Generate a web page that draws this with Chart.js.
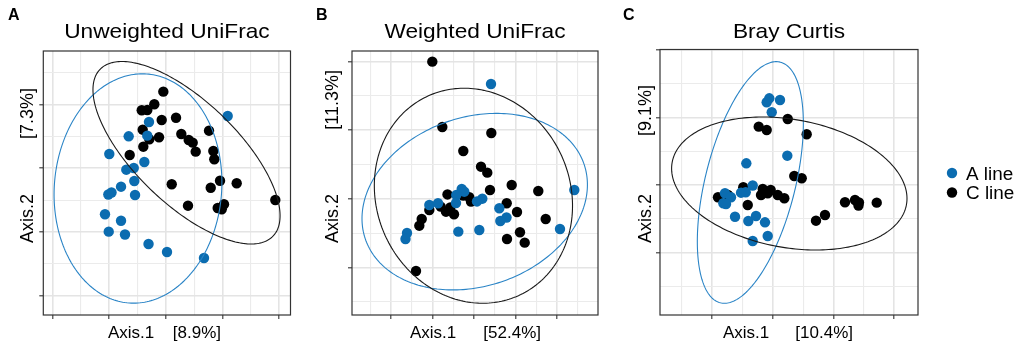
<!DOCTYPE html>
<html>
<head>
<meta charset="utf-8">
<script src="https://cdn.jsdelivr.net/npm/chart.js@4.4.1/dist/chart.umd.min.js"></script>
<style>
  html, body { margin: 0; padding: 0; background: #fff; }
  #wrap { position: relative; width: 1021px; height: 344px; overflow: hidden; }
  canvas { position: absolute; top: 0; }
</style>
</head>
<body>
<div id="wrap">
  <canvas id="panelA" width="305" height="344" style="left:0px"></canvas>
  <canvas id="panelB" width="307" height="344" style="left:305px"></canvas>
  <canvas id="panelC" width="409" height="344" style="left:612px"></canvas>
</div>
<script>
// groups / legend
const groupNames = ['A line', 'C line'];
const groupColors = ['#0b6cb0', '#000000'];
const ellipseColors = ['#2a84c6', '#1a1a1a'];

// ---- A: Unweighted UniFrac ----
const unwAline = [
  [0.1093, 0.1821], [-0.0295, 0.1727], [-0.0653, 0.1502], [-0.0325, 0.1512], [-0.0995, 0.1224],
  [-0.0377, 0.1099], [-0.0564, 0.1005], [-0.0695, 0.0978], [-0.0554, 0.0801], [-0.0788, 0.0711],
  [-0.0956, 0.0620], [-0.1012, 0.0589], [-0.0541, 0.0581], [-0.1071, 0.0278], [-0.0788, 0.0177],
  [-0.1005, 0.0005], [-0.0718, -0.0039], [-0.0303, -0.0188], [0.0023, -0.0314], [0.0675, -0.0408]
];
const unwCline = [
  [-0.0042, 0.2203], [-0.0201, 0.2005], [-0.0325, 0.1915], [-0.0423, 0.1911], [-0.0071, 0.1758],
  [0.0182, 0.1794], [-0.0406, 0.1606], [-0.0118, 0.1487], [-0.0289, 0.1455], [-0.0395, 0.1339],
  [0.0275, 0.1538], [0.0406, 0.1444], [0.0476, 0.1402], [0.0529, 0.1261], [0.0764, 0.1590],
  [0.0840, 0.1272], [0.0857, 0.1141], [-0.0635, 0.1209], [0.0106, 0.0749], [0.0958, 0.0805],
  [0.1252, 0.0765], [0.0794, 0.0695], [0.0393, 0.0413], [0.0917, 0.0377], [0.1028, 0.0435],
  [0.0988, 0.0356], [0.1933, 0.0502]
];
// ellipse: [centre x, centre y, half width, half height, y offset at widest point]
const unwEllA = [-0.0489, 0.0683, 0.148, 0.180, 0.0094];
const unwEllC = [0.0367, 0.1244, 0.165, 0.1432, -0.0989];
const unwXRange = [-0.2159, 0.2201];
const unwYRange = [-0.1303, 0.2841];
const unwXTicks = [-0.2, -0.1, 0, 0.1, 0.2];
const unwXMinor = [-0.15, -0.05, 0.05, 0.15];
const unwYTicks = [-0.1, 0, 0.1, 0.2];
const unwYMinor = [-0.05, 0.05, 0.15, 0.25];

// ---- B: Weighted UniFrac ----
const wAline = [
  [0.0410, 0.1674], [0.2417, 0.0131], [-0.0296, 0.0146], [-0.0234, 0.0106], [-0.0427, 0.0058],
  [-0.0434, -0.0058], [-0.1077, -0.0087], [-0.0867, -0.0063], [0.0200, 0.0004], [0.0072, -0.0036],
  [0.0610, -0.0135], [0.0783, -0.0269], [0.0634, -0.0320], [-0.0378, -0.0476], [0.0128, -0.0451],
  [0.2072, -0.0437], [-0.1614, -0.0495], [-0.1651, -0.0582]
];
const wCline = [
  [-0.1005, 0.1999], [-0.0764, 0.1048], [0.0417, 0.0961], [-0.0258, 0.0699], [0.0169, 0.0470],
  [0.0320, 0.0383], [0.0908, 0.0204], [0.0386, 0.0131], [0.1549, 0.0116], [-0.0639, 0.0066],
  [-0.0258, 0.0048], [-0.0113, 0.0025], [-0.0072, -0.0039], [-0.0802, -0.0112], [-0.1077, -0.0160],
  [-0.0675, -0.0185], [-0.0571, -0.0124], [-0.0482, -0.0223], [0.0788, -0.0063], [0.1036, -0.0189],
  [0.1728, -0.0291], [-0.1260, -0.0291], [-0.1318, -0.0389], [0.1108, -0.0485], [0.0795, -0.0582],
  [0.1222, -0.0636], [-0.1398, -0.1048]
];
const wEllA = [0.0017, -0.0039, 0.2716, 0.1285, 0.0247];
const wEllC = [-0.0014, 0.0047, 0.2388, 0.1565, -0.0146];
const wXRange = [-0.2940, 0.2988];
const wYRange = [-0.1689, 0.2154];
const wXTicks = [-0.2, -0.1, 0, 0.1, 0.2];
const wXMinor = [-0.25, -0.15, -0.05, 0.05, 0.15, 0.25];
const wYTicks = [-0.1, 0, 0.1, 0.2];
const wYMinor = [-0.15, -0.05, 0.05, 0.15];

// ---- C: Bray Curtis ----
const bcAline = [
  [-0.0056, 0.1284], [-0.0099, 0.1225], [0.0120, 0.1259], [-0.0016, 0.1077], [0.0240, 0.0434],
  [-0.0434, 0.0321], [-0.0329, -0.0007], [-0.0444, -0.0108], [-0.0521, -0.0114], [-0.0785, -0.0123],
  [-0.0686, -0.0182], [-0.0812, -0.0271], [-0.0768, -0.0281], [-0.0620, -0.0470], [-0.0401, -0.0533],
  [-0.0275, -0.0459], [-0.0127, -0.0553], [-0.0082, -0.0756], [-0.0329, -0.0830]
];
const bcCline = [
  [0.0247, 0.0978], [-0.0230, 0.0864], [-0.0099, 0.0815], [0.0559, 0.0751], [0.0355, 0.0133],
  [0.0477, 0.0099], [-0.0484, -0.0034], [-0.0164, -0.0059], [-0.0033, -0.0074], [-0.0192, -0.0148],
  [-0.0082, -0.0123], [0.0082, -0.0148], [0.0191, -0.0197], [-0.0900, -0.0182], [-0.0735, -0.0148],
  [-0.0411, -0.0296], [0.1189, -0.0256], [0.1354, -0.0222], [0.1419, -0.0259], [0.1411, -0.0304],
  [0.1711, -0.0262], [0.0860, -0.0444], [0.0712, -0.0529]
];
const bcEllA = [-0.0368, 0.0037, 0.0872, 0.179, 0.0874];
const bcEllC = [0.0273, 0.0022, 0.1936, 0.0985, -0.0222];
const bcXRange = [-0.1854, 0.2390];
const bcYRange = [-0.1926, 0.2007];
const bcXTicks = [-0.1, 0, 0.1, 0.2];
const bcXMinor = [-0.15, -0.05, 0.05, 0.15];
const bcYTicks = [-0.1, 0, 0.1, 0.2];
const bcYMinor = [-0.15, -0.05, 0.05, 0.15];

const FONT = '"Liberation Sans", Arial, Helvetica, sans-serif';

function axis(range, major, minor, horizontal) {
  const all = major.concat(minor).sort((a, b) => a - b);
  const isMajor = c => c.tick && major.includes(c.tick.value);
  return {
    type: 'linear',
    min: range[0],
    max: range[1],
    afterBuildTicks: s => { s.ticks = all.map(v => ({ value: v })); },
    afterFit: s => { if (horizontal) s.height = 4; else s.width = 4; },
    ticks: { display: false },
    border: { display: false },
    grid: {
      color: c => isMajor(c) ? '#e4e4e4' : '#ebebeb',
      lineWidth: c => isMajor(c) ? 1.6 : 1.1,
      tickColor: c => isMajor(c) ? '#333333' : 'rgba(0,0,0,0)',
      tickWidth: 1.1,
      tickLength: 4
    }
  };
}

function txt(ctx, s, x, y, opt) {
  ctx.save();
  ctx.translate(x, y);
  if (opt.rot) ctx.rotate(opt.rot);
  ctx.scale(opt.sx || 1, 1);
  ctx.font = opt.font;
  ctx.fillStyle = opt.color || '#000';
  ctx.textAlign = opt.align || 'left';
  ctx.textBaseline = 'alphabetic';
  ctx.fillText(s, 0, 0);
  ctx.restore();
}

function decor(p) {
  return {
    id: 'decor' + p.letter,
    afterDatasetsDraw(chart) {
      const { ctx, chartArea: a, scales: { x, y } } = chart;
      ctx.save();
      ctx.beginPath();
      ctx.rect(a.left, a.top, a.right - a.left, a.bottom - a.top);
      ctx.clip();
      p.ellipses.forEach((e, gi) => {
        const [cx, cy, rx, ry, k] = e;
        const q = Math.sqrt(ry * ry - k * k);
        ctx.beginPath();
        for (let i = 0; i <= 240; i++) {
          const t = i / 240 * 2 * Math.PI;
          const px = x.getPixelForValue(cx + rx * Math.cos(t));
          const py = y.getPixelForValue(cy + k * Math.cos(t) + q * Math.sin(t));
          if (i === 0) ctx.moveTo(px, py); else ctx.lineTo(px, py);
        }
        ctx.closePath();
        ctx.strokeStyle = ellipseColors[gi];
        ctx.lineWidth = 1.1;
        ctx.stroke();
      });
      ctx.restore();
      ctx.save();
      ctx.strokeStyle = '#333333';
      ctx.lineWidth = 1.2;
      ctx.strokeRect(a.left, a.top, a.right - a.left, a.bottom - a.top);
      ctx.restore();
    },
    afterDraw(chart) {
      const ctx = chart.ctx;
      const a = chart.chartArea;
      const o = p.offset;
      const mid = (a.left + a.right) / 2;
      txt(ctx, p.letter, p.letterX - o, 20, { font: 'bold 16px ' + FONT });
      txt(ctx, p.title, mid, 38, { font: '21px ' + FONT, align: 'center', sx: 1.08 });
      // x axis title, two parts
      txt(ctx, 'Axis.1', p.xl[0] - o, 338, { font: '17px ' + FONT });
      txt(ctx, p.xPct, p.xl[1] - o, 338, { font: '17px ' + FONT, align: 'right' });
      // y axis title, rotated
      txt(ctx, 'Axis.2', p.yl[0] - o, 243, { font: '18px ' + FONT, rot: -Math.PI / 2 });
      txt(ctx, p.yPct, p.yl[0] - o, p.yl[1], { font: '18px ' + FONT, rot: -Math.PI / 2, align: 'right' });
      if (p.legend) {
        groupNames.forEach((g, i) => {
          const yy = 173 + i * 19.5;
          ctx.beginPath();
          ctx.arc(952 - o, yy, 5.2, 0, 2 * Math.PI);
          ctx.fillStyle = groupColors[i];
          ctx.fill();
          txt(ctx, g, 966 - o, yy + 6.5, { font: '18px ' + FONT, sx: 1.05 });
        });
      }
    }
  };
}

function makePanel(id, p) {
  const toPts = arr => arr.map(d => ({ x: d[0], y: d[1] }));
  new Chart(document.getElementById(id), {
    type: 'scatter',
    data: {
      datasets: [
        { label: groupNames[0], data: toPts(p.aLine), backgroundColor: groupColors[0], pointRadius: 5.2, borderWidth: 0, pointHoverRadius: 5.2 },
        { label: groupNames[1], data: toPts(p.cLine), backgroundColor: groupColors[1], pointRadius: 5.2, borderWidth: 0, pointHoverRadius: 5.2 }
      ]
    },
    options: {
      responsive: false,
      animation: false,
      events: [],
      layout: { padding: p.padding },
      plugins: { legend: { display: false }, tooltip: { enabled: false } },
      scales: {
        x: axis(p.xRange, p.xTicks, p.xMinor, true),
        y: axis(p.yRange, p.yTicks, p.yMinor, false)
      }
    },
    plugins: [decor(p)]
  });
}

makePanel('panelA', {
  letter: 'A', letterX: 8, offset: 0, title: 'Unweighted UniFrac',
  aLine: unwAline, cLine: unwCline, ellipses: [unwEllA, unwEllC],
  xRange: unwXRange, yRange: unwYRange, xTicks: unwXTicks, xMinor: unwXMinor, yTicks: unwYTicks, yMinor: unwYMinor,
  xPct: '[8.9%]', yPct: '[7.3%]', xl: [108, 221], yl: [33, 88],
  padding: { left: 39.3, right: 14.5, top: 51, bottom: 25 }
});
makePanel('panelB', {
  letter: 'B', letterX: 316, offset: 305, title: 'Weighted UniFrac',
  aLine: wAline, cLine: wCline, ellipses: [wEllA, wEllC],
  xRange: wXRange, yRange: wYRange, xTicks: wXTicks, xMinor: wXMinor, yTicks: wYTicks, yMinor: wYMinor,
  xPct: '[52.4%]', yPct: '[11.3%]', xl: [410, 541], yl: [338, 70],
  padding: { left: 43, right: 14, top: 51, bottom: 25 }
});
makePanel('panelC', {
  letter: 'C', letterX: 623, offset: 612, title: 'Bray Curtis',
  aLine: bcAline, cLine: bcCline, ellipses: [bcEllA, bcEllC],
  xRange: bcXRange, yRange: bcYRange, xTicks: bcXTicks, xMinor: bcXMinor, yTicks: bcYTicks, yMinor: bcYMinor,
  xPct: '[10.4%]', yPct: '[9.1%]', xl: [723, 853], yl: [651, 85],
  padding: { left: 44, right: 103, top: 49.5, bottom: 25 },
  legend: true
});
</script>
</body>
</html>
